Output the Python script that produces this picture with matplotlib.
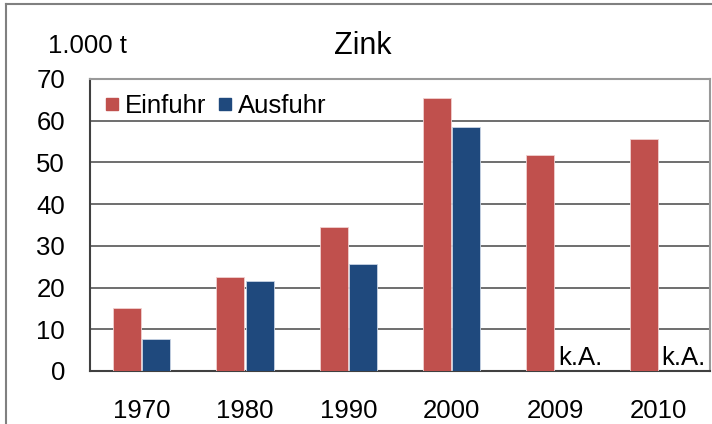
import numpy as np
import matplotlib.pyplot as plt
from matplotlib.lines import Line2D

plt.rcParams['font.family'] = ['Liberation Sans', 'DejaVu Sans']

# data (1.000 t)
years = ['1970', '1980', '1990', '2000', '2009', '2010']
einfuhr = [15.2, 22.6, 34.6, 65.5, 51.7, 55.7]
ausfuhr = [7.6, 21.6, 25.6, 58.6, np.nan, np.nan]

red = '#C0504D'
blue = '#1F497D'

fig = plt.figure(figsize=(7.12, 4.24), dpi=100)
ax = fig.add_axes([90/712, 53/424, 620/712, 292/424])

x = np.arange(len(years))
w = 0.27
ax.bar(x - 0.143, einfuhr, w, color=red, edgecolor='#f0d0d0', linewidth=0.6, zorder=3)
ax.bar(x + 0.143, ausfuhr, w, color=blue, edgecolor='#c8d4e4', linewidth=0.6, zorder=3)

# keine Angabe
for i, v in enumerate(ausfuhr):
    if np.isnan(v):
        ax.text(x[i] + 0.143 - w/2 + 0.02, 1.5, 'k.A.', fontsize=18.5, ha='left', va='baseline', zorder=4)

ax.set_xlim(-0.5, len(years) - 0.5)
ax.set_ylim(0, 70)
ax.set_yticks(range(0, 71, 10))
ax.set_xticks(x)
ax.set_xticklabels(years)
ax.tick_params(axis='both', length=0, labelsize=18.5)
ax.tick_params(axis='x', pad=20)
ax.tick_params(axis='y', pad=18)

for yv in range(10, 70, 10):
    ax.axhline(yv, color='#555555', lw=1.2, zorder=1)

ax.spines['left'].set_color('#404040')
ax.spines['bottom'].set_color('#404040')
ax.spines['top'].set_color('#999999')
ax.spines['right'].set_color('#999999')
for s in ax.spines.values():
    s.set_linewidth(1.5)

handles = [Line2D([], [], marker='s', ls='none', color=red, markersize=8),
           Line2D([], [], marker='s', ls='none', color=blue, markersize=8)]
ax.legend(handles, ['Einfuhr', 'Ausfuhr'], loc='upper left', ncol=2, frameon=False,
          fontsize=18.5, handlelength=0.5, handletextpad=0.25, columnspacing=0.5,
          borderaxespad=0.2, bbox_to_anchor=(0.0, 1.0))

fig.text(363/712, 1 - 54/424, 'Zink', fontsize=22, ha='center', va='baseline')
fig.text(48/712, 1 - 53/424, '1.000 t', fontsize=18.5, ha='left', va='baseline')

# outer chart frame
fig.add_artist(Line2D([5.5/712, 5.5/712], [0, 1 - 3.5/424], color='#808080', lw=1.5))
fig.add_artist(Line2D([5.5/712, 1], [1 - 3.5/424, 1 - 3.5/424], color='#808080', lw=1.5))

fig.savefig('out.png', dpi=100)
